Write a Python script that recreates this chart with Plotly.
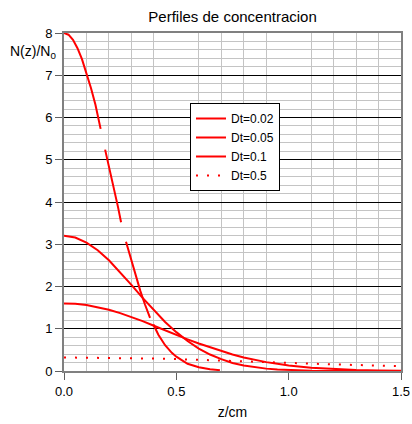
import plotly.graph_objects as go

# ---- data ----
z_dt002 = [0.0, 0.02, 0.04, 0.06, 0.08, 0.10, 0.12, 0.14, 0.163, None,
           0.183, 0.20, 0.22, 0.24, 0.254, None,
           0.276, 0.30, 0.32, 0.34, 0.36, 0.383, None,
           0.398, 0.42, 0.45, 0.48, 0.50, 0.55, 0.60, 0.65, 0.694]
n_dt002 = [8.00, 7.96, 7.84, 7.64, 7.38, 7.06, 6.70, 6.30, 5.73, None,
           5.24, 4.85, 4.37, 3.89, 3.52, None,
           3.06, 2.60, 2.22, 1.89, 1.58, 1.26, None,
           1.10, 0.86, 0.61, 0.43, 0.34, 0.17, 0.09, 0.04, 0.02]

z_grid = [0.0, 0.05, 0.10, 0.15, 0.20, 0.25, 0.30, 0.35, 0.40, 0.45, 0.50,
          0.55, 0.60, 0.65, 0.70, 0.75, 0.80, 0.85, 0.90, 0.95, 1.00,
          1.10, 1.20, 1.30, 1.40, 1.50]
n_dt005 = [3.20, 3.16, 3.04, 2.86, 2.62, 2.34, 2.04, 1.73, 1.44, 1.16, 0.92,
           0.71, 0.53, 0.39, 0.28, 0.19, 0.13, 0.087, 0.056, 0.035, 0.022,
           0.008, 0.002, 0.001, 0.0, 0.0]
n_dt01 = [1.60, 1.59, 1.56, 1.51, 1.45, 1.37, 1.28, 1.18, 1.07, 0.96, 0.86,
          0.75, 0.65, 0.56, 0.47, 0.39, 0.32, 0.26, 0.21, 0.17, 0.13,
          0.078, 0.044, 0.023, 0.012, 0.006]

z_dt05 = [0.0, 0.1, 0.2, 0.3, 0.4, 0.5, 0.6, 0.7, 0.8, 0.9, 1.0,
          1.1, 1.2, 1.3, 1.4, 1.5]
n_dt05 = [0.32, 0.318, 0.314, 0.306, 0.295, 0.282, 0.267, 0.250, 0.233,
          0.214, 0.194, 0.175, 0.156, 0.138, 0.125, 0.115]

series_names = ["Dt=0.02", "Dt=0.05", "Dt=0.1", "Dt=0.5"]

FONT = "Liberation Sans, Arial, sans-serif"
RED = "#FF0000"
GRID_MINOR = "#c4c4c4"

fig = go.Figure()
fig.add_trace(go.Scatter(x=z_dt002, y=n_dt002, mode="lines", name=series_names[0],
                         connectgaps=False, line=dict(color=RED, width=2)))
fig.add_trace(go.Scatter(x=z_grid, y=n_dt005, mode="lines", name=series_names[1],
                         line=dict(color=RED, width=2)))
fig.add_trace(go.Scatter(x=z_grid, y=n_dt01, mode="lines", name=series_names[2],
                         line=dict(color=RED, width=2)))
fig.add_trace(go.Scatter(x=z_dt05, y=n_dt05, mode="lines", name=series_names[3],
                         line=dict(color=RED, width=2, dash="2px,9px")))

fig.update_layout(
    width=412, height=424,
    margin=dict(l=64, r=11, t=33, b=53, autoexpand=False),
    paper_bgcolor="white", plot_bgcolor="white",
    font=dict(family=FONT, size=13, color="black"),
    title=dict(text="Perfiles de concentracion", x=0.5645, xanchor="center",
               y=1 - 17 / 424, yanchor="middle",
               font=dict(family=FONT, size=15, color="black")),
    showlegend=True,
    legend=dict(x=(190 - 64) / 337, y=(371 - 103) / 338, xanchor="left", yanchor="top",
                bgcolor="white", bordercolor="black", borderwidth=1,
                font=dict(family=FONT, size=12, color="black"),
                tracegroupgap=0),
    xaxis=dict(range=[0, 1.5], tickmode="linear", dtick=0.5, tick0=0, tickformat=".1f",
               showgrid=False, zeroline=False, automargin=False,
               showline=True, linecolor="#808080", linewidth=2, mirror=True,
               ticks="outside", ticklen=7, tickcolor="#606060", tickwidth=1,
               tickfont=dict(family=FONT, size=13, color="black"),
               minor=dict(tickmode="linear", tick0=0, dtick=0.1, showgrid=True,
                          gridcolor=GRID_MINOR, gridwidth=1, ticks=""),
               title=dict(text="z/cm", standoff=10, font=dict(family=FONT, size=14, color="black"))),
    yaxis=dict(range=[0, 8], tickmode="linear", dtick=1, tick0=0, automargin=False,
               showgrid=True, gridcolor="black", gridwidth=1, zeroline=False,
               showline=True, linecolor="#808080", linewidth=2, mirror=True,
               ticks="outside", ticklen=7, tickcolor="#606060", tickwidth=1,
               tickfont=dict(family=FONT, size=13, color="black"),
               minor=dict(tickmode="linear", tick0=0, dtick=0.2, showgrid=True,
                          gridcolor=GRID_MINOR, gridwidth=1, ticks="")),
)

fig.add_annotation(text="N(z)/N<sub>0</sub>", xref="paper", yref="paper",
                   x=(8 - 64) / 337, y=(371 - 52) / 338, xanchor="left", yanchor="middle",
                   showarrow=False, font=dict(family=FONT, size=14, color="black"))

fig.write_html("out.html", config={"displayModeBar": False},
               post_script="document.body.style.margin='0';")
